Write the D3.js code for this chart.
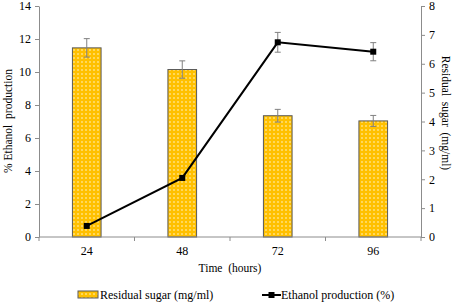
<!DOCTYPE html>
<html>
<head>
<meta charset="utf-8">
<script src="https://cdn.jsdelivr.net/npm/d3@7"></script>
<style>
  body { margin: 0; background: #fff; }
  svg text { font-family: "Liberation Serif", "Times New Roman", "DejaVu Serif", "Noto Serif", serif !important; fill: #000; }
</style>
</head>
<body>
<svg id="chart" width="457" height="306"></svg>
<script>
// data
const times = ["24", "48", "72", "96"];
const sugar = [6.55, 5.80, 4.20, 4.02];        // residual sugar (mg/ml), right axis
const sugarErr = [0.32, 0.30, 0.22, 0.19];
const ethanol = [0.67, 3.58, 11.8, 11.23];      // ethanol production (%), left axis
const ethanolErr = [0, 0, 0.6, 0.55];
const leftTicks = [0, 2, 4, 6, 8, 10, 12, 14];
const rightTicks = [0, 1, 2, 3, 4, 5, 6, 7, 8];

let margin = {left: 39, top: 6, right: 36, bottom: 69};
let width = 457, height = 306;
let svg = d3.select("#chart");

let x = d3.scaleBand().domain(times)
  .range([margin.left, width - margin.right]);
let yL = d3.scaleLinear().domain([0, 14]).range([height - margin.bottom, margin.top]);
let yR = d3.scaleLinear().domain([0, 8]).range([height - margin.bottom, margin.top]);

// dotted gold fill
let defs = svg.append("defs");
let pat = defs.append("pattern").attr("id", "dots")
  .attr("patternUnits", "userSpaceOnUse").attr("width", 4).attr("height", 4);
pat.append("rect").attr("width", 4).attr("height", 4).attr("fill", "#ffc000");
pat.append("rect").attr("x", 1).attr("y", 1).attr("width", 2).attr("height", 2).attr("fill", "#ffd85c");

const axisColor = "#8c8c8c";
const serif = '"Liberation Serif", "Times New Roman", "DejaVu Serif", serif';
let barW = x.bandwidth() * 0.3;

// bars
svg.append("g").selectAll("rect").data(times).join("rect")
  .attr("x", d => x(d) + x.bandwidth() / 2 - barW / 2)
  .attr("y", (d, i) => yR(sugar[i]))
  .attr("width", barW)
  .attr("height", (d, i) => yR(0) - yR(sugar[i]))
  .attr("fill", "url(#dots)")
  .attr("stroke", "#595959").attr("stroke-width", 1);

function errBars(g, vals, errs, scale) {
  times.forEach(function(t, i) {
    if (!errs[i]) return;
    let cx = x(t) + x.bandwidth() / 2;
    let y0 = scale(vals[i] - errs[i]), y1 = scale(vals[i] + errs[i]);
    g.append("line").attr("x1", cx).attr("x2", cx).attr("y1", y0).attr("y2", y1);
    g.append("line").attr("x1", cx - 3).attr("x2", cx + 3).attr("y1", y0).attr("y2", y0);
    g.append("line").attr("x1", cx - 3).attr("x2", cx + 3).attr("y1", y1).attr("y2", y1);
  });
}
let eb = svg.append("g").attr("stroke", "#808080").attr("stroke-width", 1);
errBars(eb, sugar, sugarErr, yR);

// ethanol line
let line = d3.line()
  .x((d, i) => x(times[i]) + x.bandwidth() / 2)
  .y(d => yL(d));
svg.append("path").datum(ethanol)
  .attr("d", line).attr("fill", "none")
  .attr("stroke", "#000").attr("stroke-width", 2);
let eb2 = svg.append("g").attr("stroke", "#808080").attr("stroke-width", 1);
errBars(eb2, ethanol, ethanolErr, yL);
svg.append("g").selectAll("rect").data(ethanol).join("rect")
  .attr("x", (d, i) => x(times[i]) + x.bandwidth() / 2 - 3)
  .attr("y", d => yL(d) - 3)
  .attr("width", 6).attr("height", 6).attr("fill", "#000");

// axes
function styleAxis(g) {
  g.attr("font-family", serif);
  g.selectAll("path, line").attr("stroke", axisColor);
  g.selectAll("text").attr("font-size", 12);
}
svg.append("g").attr("transform", `translate(${margin.left},0)`)
  .call(d3.axisLeft(yL).tickValues(leftTicks).tickSize(4).tickSizeOuter(0).tickPadding(4))
  .call(styleAxis);
svg.append("g").attr("transform", `translate(${width - margin.right},0)`)
  .call(d3.axisRight(yR).tickValues(rightTicks).tickSize(4).tickSizeOuter(0).tickPadding(4))
  .call(styleAxis);

// x axis: ticks at the band edges, labels centred
let xg = svg.append("g").attr("transform", `translate(0,${yL(0)})`);
xg.append("line").attr("x1", margin.left).attr("x2", width - margin.right)
  .attr("stroke", axisColor);
let edges = times.map(t => x(t)).concat([x.range()[1]]);
xg.selectAll(".tk").data(edges).join("line").attr("class", "tk")
  .attr("x1", d => d).attr("x2", d => d).attr("y1", 0).attr("y2", 4)
  .attr("stroke", axisColor);
xg.selectAll(".lb").data(times).join("text").attr("class", "lb")
  .attr("x", d => x(d) + x.bandwidth() / 2).attr("y", 18)
  .attr("text-anchor", "middle").attr("font-size", 12).text(d => d);

// titles
svg.append("text").attr("x", (margin.left + width - margin.right) / 2).attr("y", 272)
  .attr("text-anchor", "middle").attr("font-size", 11.5)
  .style("white-space", "pre").text("Time  (hours)");
svg.append("text").attr("transform", "translate(12,121) rotate(-90)")
  .attr("text-anchor", "middle").attr("font-size", 11.5)
  .style("white-space", "pre").text("% Ethanol  production");
svg.append("text").attr("transform", "translate(442,113) rotate(90)")
  .attr("text-anchor", "middle").attr("font-size", 11.5)
  .style("white-space", "pre").text("Residual  sugar  (mg/ml)");

// legend
let lg = svg.append("g");
lg.append("rect").attr("x", 78).attr("y", 291).attr("width", 20).attr("height", 7)
  .attr("fill", "url(#dots)").attr("stroke", "#595959");
lg.append("text").attr("x", 100).attr("y", 299).attr("font-size", 12).text("Residual sugar (mg/ml)");
lg.append("line").attr("x1", 262).attr("x2", 281).attr("y1", 295).attr("y2", 295)
  .attr("stroke", "#000").attr("stroke-width", 2);
lg.append("rect").attr("x", 268.5).attr("y", 292).attr("width", 6).attr("height", 6).attr("fill", "#000");
lg.append("text").attr("x", 281).attr("y", 299).attr("font-size", 12).text("Ethanol production (%)");
</script>
</body>
</html>
